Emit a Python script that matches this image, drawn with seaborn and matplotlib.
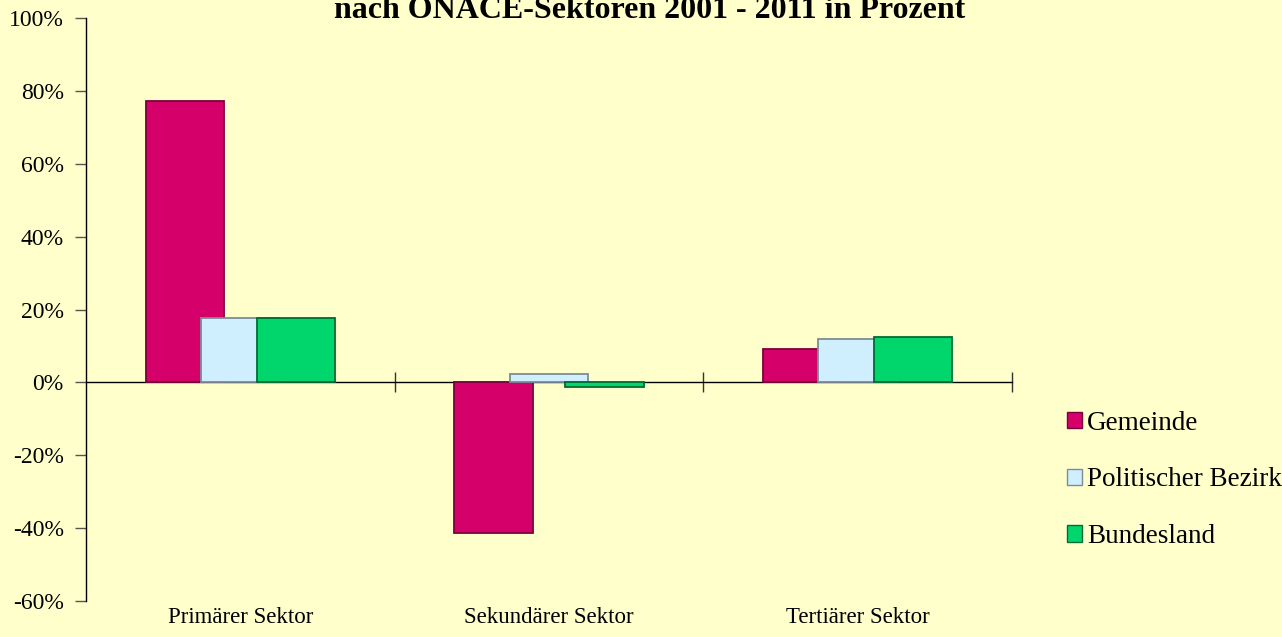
import numpy as np
import pandas as pd
import seaborn as sns
import matplotlib.pyplot as plt
from matplotlib.ticker import PercentFormatter, FixedLocator, NullFormatter

# Daten
sektoren = ["Primärer Sektor", "Sekundärer Sektor", "Tertiärer Sektor"]
gemeinde = [77.2, -41.3, 9.1]
bezirk = [17.6, 2.3, 12.0]
bundesland = [17.6, -1.4, 12.4]
gruppen = ["Gemeinde", "Politischer Bezirk", "Bundesland"]
farben = ["#D6006A", "#CFEFFF", "#00D66B"]
kanten = ["#7A003D", "#7D8C99", "#006B35"]

df = pd.DataFrame({
    "Sektor": sektoren * 3,
    "Gruppe": np.repeat(gruppen, 3),
    "Wert": gemeinde + bezirk + bundesland,
})

bg = "#FFFFCC"
sns.set_style("white")
plt.rcParams["font.family"] = ["Liberation Serif", "DejaVu Serif"]
plt.rcParams["axes.unicode_minus"] = False
plt.rcParams["text.color"] = "black"
plt.rcParams["xtick.color"] = "black"
plt.rcParams["ytick.color"] = "black"

fig = plt.figure(figsize=(12.82, 6.37), dpi=100, facecolor=bg)
ax = fig.add_axes([86 / 1282, 1 - 601 / 637, (1012 - 86) / 1282, (601 - 18) / 637])
ax.set_facecolor(bg)

sns.barplot(data=df, x="Sektor", y="Wert", hue="Gruppe", order=sektoren,
            hue_order=gruppen, palette=farben, saturation=1, width=0.54,
            ax=ax, legend=True)

# Balken ueberlappen sich wie im Original (breiter um die eigene Mitte)
faktor = 1.41
for i, cont in enumerate(ax.containers):
    for p in cont:
        w = p.get_width()
        p.set_x(p.get_x() - w * (faktor - 1) / 2)
        p.set_width(w * faktor)
        p.set_edgecolor(kanten[i])
        p.set_linewidth(1.3)

ax.set_xlim(-0.5, 2.5)
ax.set_ylim(-60, 100)
ax.set_yticks(np.arange(-60, 101, 20))
ax.yaxis.set_major_formatter(PercentFormatter(decimals=0))
ax.set_xlabel("")
ax.set_ylabel("")

for s in ["top", "right", "bottom"]:
    ax.spines[s].set_visible(False)
ax.spines["left"].set_color("black")
ax.spines["left"].set_linewidth(1)
ax.tick_params(axis="y", left=True, direction="out", length=8, width=1,
               color="#555555", labelsize=17, pad=8)
ax.tick_params(axis="x", bottom=False, labelsize=16.5, pad=1)

# Nulllinie mit Kategorie-Trennstrichen
sec = ax.secondary_xaxis(60 / 160)
sec.spines["bottom"].set_linewidth(1)
sec.spines["bottom"].set_color("black")
sec.xaxis.set_major_locator(FixedLocator([0.5, 1.5, 2.5]))
sec.xaxis.set_major_formatter(NullFormatter())
sec.tick_params(direction="inout", length=14, width=1, color="#333333")

handles, labels = ax.get_legend_handles_labels()
for h, k in zip(handles, kanten):
    h.set_edgecolor(k)
ax.legend(handles, labels, loc="center left", bbox_to_anchor=(1067 / 1282, 1 - 480 / 637),
          bbox_transform=fig.transFigure, frameon=False, fontsize=19.5,
          handlelength=0.55, handleheight=0.55, handletextpad=0.2,
          labelspacing=1.17, borderpad=0, borderaxespad=0)

fig.text(0.507, 1 - 18 / 637, "nach ÖNACE-Sektoren 2001 - 2011 in Prozent",
         ha="center", va="baseline", fontsize=23, fontweight="bold")

fig.savefig("out.png", dpi=100, facecolor=bg)
